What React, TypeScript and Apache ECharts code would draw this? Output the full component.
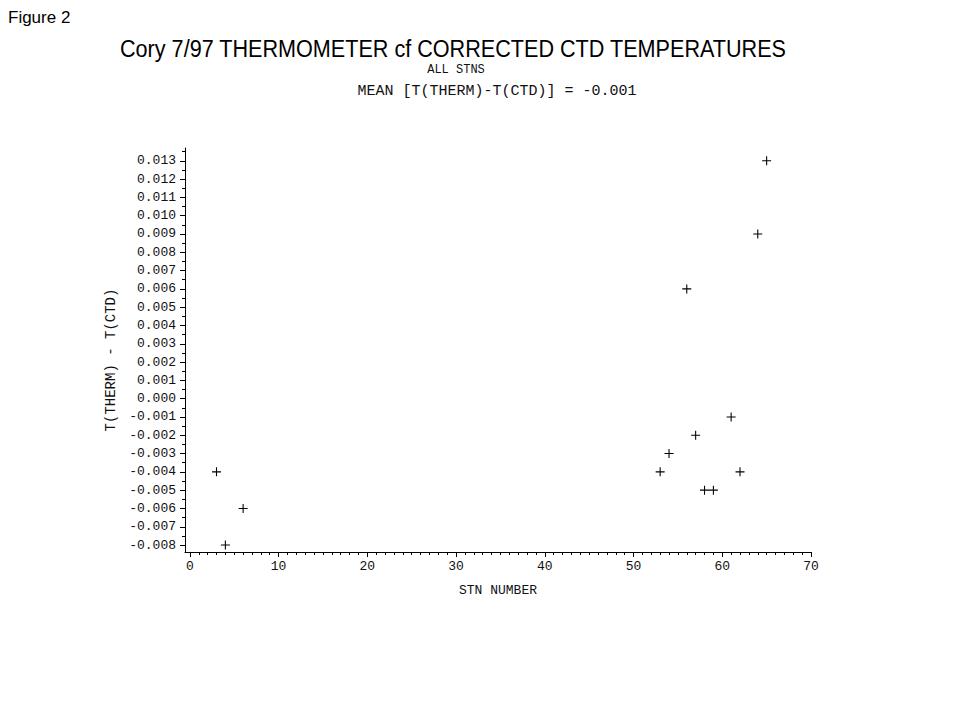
import React, { useEffect, useRef } from "react";
import * as echarts from "echarts";

// ---- data ----
const stationNumbers = [3, 4, 6, 53, 54, 56, 57, 58, 59, 61, 62, 64, 65];
const tempDiffs = [-0.004, -0.008, -0.006, -0.004, -0.003, 0.006, -0.002, -0.005, -0.005, -0.001, -0.004, 0.009, 0.013];

const xMajorTicks = [0, 10, 20, 30, 40, 50, 60, 70];
const xMinorTicks = Array.from({ length: 71 }, (_, i) => i);
const yMajorTicks = [-0.008, -0.007, -0.006, -0.005, -0.004, -0.003, -0.002, -0.001, 0, 0.001, 0.002, 0.003, 0.004, 0.005, 0.006, 0.007, 0.008, 0.009, 0.01, 0.011, 0.012, 0.013];
const yMinorTicks = [-0.0075, -0.0065, -0.0055, -0.0045, -0.0035, -0.0025, -0.0015, -0.0005, 0.0005, 0.0015, 0.0025, 0.0035, 0.0045, 0.0055, 0.0065, 0.0075, 0.0085, 0.0095, 0.0105, 0.0115, 0.0125, 0.0135];

const figureLabel = "Figure 2";
const mainTitle = "Cory 7/97 THERMOMETER cf CORRECTED CTD TEMPERATURES";
const subTitle1 = "ALL STNS";
const subTitle2 = "MEAN [T(THERM)-T(CTD)] = -0.001";
const xName = "STN NUMBER";
const yName = "T(THERM) - T(CTD)";

const X_MIN = -0.55;
const X_MAX = 70;
const Y_MIN = -0.00838;
const Y_MAX = 0.0137;

const MONO = "'Liberation Mono', 'DejaVu Sans Mono', monospace";
const SANS = "'Liberation Sans', Arial, Helvetica, sans-serif";

const PLUS = "path://M4.4,0H5.6V10H4.4Z M0,4.4H10V5.6H0Z";

export default function App() {
  const ref = useRef<HTMLDivElement>(null);

  useEffect(() => {
    if (!ref.current) return;
    const chart = echarts.init(ref.current, undefined, { renderer: "svg" });
    const data = stationNumbers.map((s, i) => [s, tempDiffs[i]]);

    chart.setOption({
      animation: false,
      backgroundColor: "#ffffff",
      title: [
        {
          text: figureLabel,
          left: 8,
          top: 9,
          padding: 0,
          textStyle: { fontFamily: SANS, fontSize: 17, fontWeight: "normal", color: "#000" },
        },
        {
          text: subTitle1,
          left: 456,
          textAlign: "center",
          top: 64,
          padding: 0,
          textStyle: { fontFamily: MONO, fontSize: 12, fontWeight: "normal", color: "#111" },
        },
        {
          text: subTitle2,
          left: 497,
          textAlign: "center",
          top: 84,
          padding: 0,
          textStyle: { fontFamily: MONO, fontSize: 15, fontWeight: "normal", color: "#111" },
        },
      ],
      graphic: [
        {
          type: "text",
          x: 453,
          y: 49,
          scaleX: 0.9,
          style: {
            text: mainTitle,
            fontFamily: SANS,
            fontSize: 24,
            fill: "#000",
            textAlign: "center",
            textVerticalAlign: "middle",
          },
        },
      ],
      grid: { left: 185, right: 169, top: 148, bottom: 159, containLabel: false },
      xAxis: [
        {
          type: "value",
          min: X_MIN,
          max: X_MAX,
          position: "bottom",
          name: xName,
          nameLocation: "middle",
          nameGap: 32,
          nameTextStyle: { fontFamily: MONO, fontSize: 13, color: "#111" },
          axisLine: { show: true, onZero: false, lineStyle: { color: "#000", width: 1 } },
          axisTick: { show: true, customValues: xMajorTicks, length: 5, inside: false, lineStyle: { color: "#000" } },
          axisLabel: {
            show: true,
            customValues: xMajorTicks,
            margin: 8,
            fontFamily: MONO,
            fontSize: 13,
            color: "#111",
            formatter: (v: number) => String(Math.round(v)),
          },
          splitLine: { show: false },
        },
        {
          type: "value",
          min: X_MIN,
          max: X_MAX,
          position: "bottom",
          axisLine: { show: false, onZero: false },
          axisTick: { show: true, customValues: xMinorTicks, length: 3, inside: false, lineStyle: { color: "#000" } },
          axisLabel: { show: false },
          splitLine: { show: false },
        },
      ],
      yAxis: [
        {
          type: "value",
          min: Y_MIN,
          max: Y_MAX,
          position: "left",
          name: yName,
          nameLocation: "middle",
          nameRotate: 90,
          nameGap: 58,
          nameTextStyle: { fontFamily: MONO, fontSize: 14, color: "#111", padding: [0, 20, 0, 0] },
          axisLine: { show: true, onZero: false, lineStyle: { color: "#000", width: 1 } },
          axisTick: { show: true, customValues: yMajorTicks, length: 5, inside: false, lineStyle: { color: "#000" } },
          axisLabel: {
            show: true,
            customValues: yMajorTicks,
            margin: 9,
            fontFamily: MONO,
            fontSize: 13,
            color: "#111",
            formatter: (v: number) => (Math.abs(v) < 1e-9 ? "0.000" : v.toFixed(3)),
          },
          splitLine: { show: false },
        },
        {
          type: "value",
          min: Y_MIN,
          max: Y_MAX,
          position: "left",
          axisLine: { show: false, onZero: false },
          axisTick: { show: true, customValues: yMinorTicks, length: 3, inside: false, lineStyle: { color: "#000" } },
          axisLabel: { show: false },
          splitLine: { show: false },
        },
      ],
      series: [
        {
          type: "scatter",
          xAxisIndex: 0,
          yAxisIndex: 0,
          data,
          symbol: PLUS,
          symbolSize: 9,
          itemStyle: { color: "#000", opacity: 1 },
          silent: true,
        },
      ],
    });

    return () => chart.dispose();
  }, []);

  return (
    <div
      ref={ref}
      style={{ position: "fixed", left: 0, top: 0, width: 980, height: 711, background: "#fff" }}
    />
  );
}
